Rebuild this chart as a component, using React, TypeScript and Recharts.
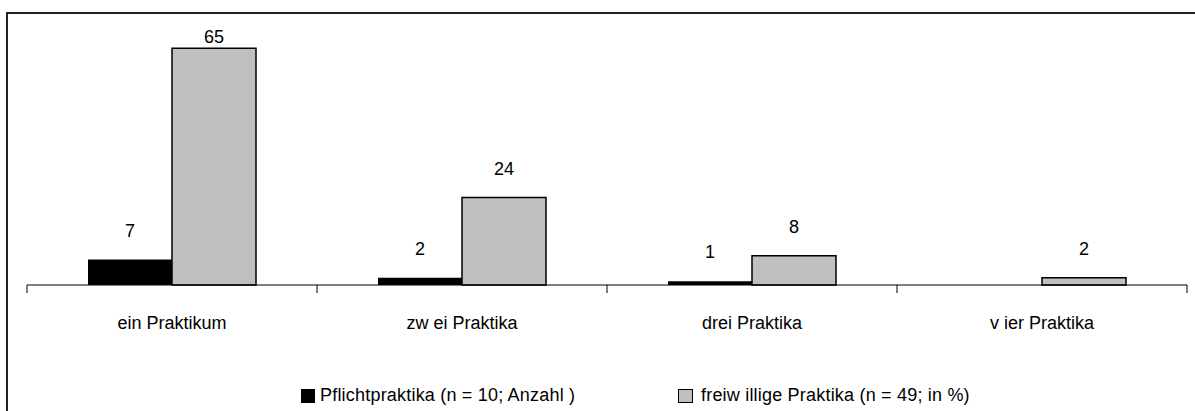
import React from 'react';
import { BarChart, Bar, XAxis, YAxis, LabelList } from 'recharts';

const categories = ['ein Praktikum', 'zw ei Praktika', 'drei Praktika', 'v ier Praktika'];
const pflicht = [7, 2, 1, null];
const freiwillig = [65, 24, 8, 2];
const seriesNames = ['Pflichtpraktika (n = 10; Anzahl )', 'freiw illige Praktika (n = 49; in %)'];
const seriesColors = ['#000000', '#c0c0c0'];

const data = categories.map((name, i) => ({ name, pflicht: pflicht[i], freiwillig: freiwillig[i] }));

const FONT = '"Liberation Sans", Arial, sans-serif';
const AXIS_Y = 285;

const CategoryTick = (props: any) => {
  const { x, y, payload, index, visibleTicksCount, width } = props;
  const band = width / visibleTicksCount;
  const left = x - band / 2;
  return (
    <g>
      <line x1={left} x2={left} y1={AXIS_Y} y2={AXIS_Y + 8} stroke="#000" strokeWidth={1} />
      {index === visibleTicksCount - 1 && (
        <line x1={x + band / 2} x2={x + band / 2} y1={AXIS_Y} y2={AXIS_Y + 8} stroke="#000" strokeWidth={1} />
      )}
      <text x={x} y={y + 36} textAnchor="middle" fontSize={18} fontFamily={FONT} fill="#000">
        {payload.value}
      </text>
    </g>
  );
};

const ValueLabel = (props: any) => {
  const { x, y, width, value } = props;
  if (value == null || value === 0) return null;
  const baseline = Math.max(y - 23, 43);
  return (
    <text x={x + width / 2} y={baseline} textAnchor="middle" fontSize={18} fontFamily={FONT} fill="#000">
      {value}
    </text>
  );
};

const legendLeft = [301, 678];

export default function App() {
  return (
    <div style={{ position: 'absolute', left: 0, top: 0, width: 1195, height: 411, overflow: 'hidden', background: '#fff' }}>
      <div
        style={{
          position: 'absolute',
          left: 6,
          top: 12,
          width: 1300,
          height: 500,
          border: '2px solid #222',
          boxSizing: 'border-box',
        }}
      />
      <div style={{ position: 'absolute', left: 0, top: 0 }}>
        <BarChart
          width={1195}
          height={411}
          data={data}
          margin={{ top: 30, right: 8, bottom: 66, left: 27 }}
          barCategoryGap={61}
          barGap={0}
        >
          <XAxis
            dataKey="name"
            height={60}
            tickLine={false}
            tickSize={8}
            tickMargin={0}
            axisLine={{ stroke: '#000', strokeWidth: 1 }}
            tick={<CategoryTick />}
            interval={0}
          />
          <YAxis hide domain={[0, 70]} />
          <Bar dataKey="pflicht" name={seriesNames[0]} fill={seriesColors[0]} isAnimationActive={false}>
            <LabelList dataKey="pflicht" content={<ValueLabel />} />
          </Bar>
          <Bar
            dataKey="freiwillig"
            name={seriesNames[1]}
            fill={seriesColors[1]}
            stroke="#000"
            strokeWidth={1.5}
            isAnimationActive={false}
          >
            <LabelList dataKey="freiwillig" content={<ValueLabel />} />
          </Bar>
        </BarChart>
      </div>
      {seriesNames.map((name, i) => (
        <div
          key={name}
          style={{
            position: 'absolute',
            left: legendLeft[i],
            top: 385,
            display: 'flex',
            alignItems: 'center',
            fontFamily: FONT,
            fontSize: 18,
            letterSpacing: 0.2,
            color: '#000',
            whiteSpace: 'pre',
          }}
        >
          <span
            style={{
              display: 'inline-block',
              width: i === 0 ? 14 : 15,
              height: 14,
              background: seriesColors[i],
              border: i === 0 ? 'none' : '1.5px solid #000',
              boxSizing: 'border-box',
              marginRight: i === 0 ? 5 : 8,
            }}
          />
          <span>{name}</span>
        </div>
      ))}
    </div>
  );
}
